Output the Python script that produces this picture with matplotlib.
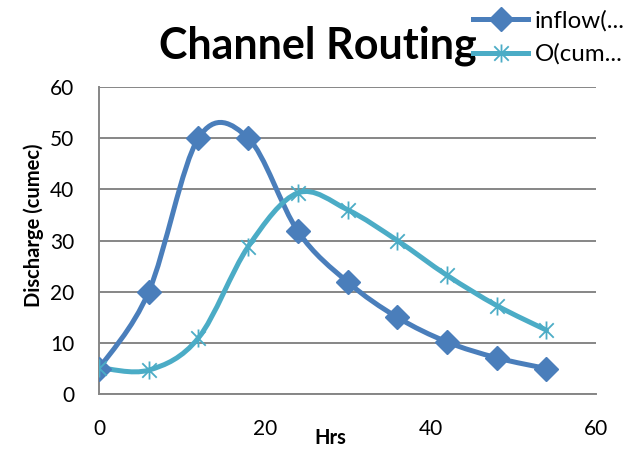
import matplotlib

matplotlib.use("Agg")
import matplotlib.pyplot as plt
import numpy as np
from matplotlib.patches import PathPatch
from matplotlib.path import Path

plt.rcParams["font.family"] = ["Lato", "DejaVu Sans"]

hours = [0, 6, 12, 18, 24, 30, 36, 42, 48, 54]
inflow = [5, 20, 50, 50, 31.8, 21.9, 15, 10.2, 7.1, 5]
outflow = [5.2, 4.7, 11, 28.8, 39.3, 36, 30, 23.2, 17.3, 12.5]
series_names = ["inflow(...", "O(cum..."]

BLUE = "#4a7ebb"
TEAL = "#4bacc6"
GRID = "#868686"

# asterisk marker: vertical bar plus an X
star = Path(
    [(0, -1), (0, 1), (-0.8, -0.8), (0.8, 0.8), (-0.8, 0.8), (0.8, -0.8)],
    [Path.MOVETO, Path.LINETO] * 3,
)


def smooth_path(x, y):
    """Cubic Bezier path through the points (Catmull-Rom style tangents)."""
    pts = np.column_stack([x, y]).astype(float)
    n = len(pts)
    verts = [pts[0]]
    codes = [Path.MOVETO]
    for i in range(n - 1):
        p0 = pts[i - 1] if i > 0 else pts[i]
        p1, p2 = pts[i], pts[i + 1]
        p3 = pts[i + 2] if i + 2 < n else pts[i + 1]
        c1 = p1 + (p2 - p0) / 6.0
        c2 = p2 - (p3 - p1) / 6.0
        verts += [c1, c2, p2]
        codes += [Path.CURVE4] * 3
    return Path(verts, codes)


fig = plt.figure(figsize=(6.39, 4.5), dpi=100)
ax = fig.add_axes([0.155, 0.124, 0.778, 0.683])

styles = [
    dict(color=BLUE, marker="D", ms=12, mew=1.0),
    dict(color=TEAL, marker=star, ms=13, mew=1.3),
]
for yv, st in zip([inflow, outflow], styles):
    ax.add_patch(PathPatch(smooth_path(hours, yv), fill=False,
                           edgecolor=st["color"], lw=3.6, capstyle="round", zorder=3))
    ax.plot(hours, yv, ls="none", marker=st["marker"], ms=st["ms"],
            color=st["color"], mec=st["color"], mew=st["mew"], zorder=4)

ax.set_xlim(0, 60)
ax.set_ylim(0, 60)
ax.set_xticks([0, 20, 40, 60])
ax.set_yticks(range(0, 61, 10))
ax.grid(axis="y", color=GRID, lw=1.4)
ax.set_axisbelow(True)
for side in ["top", "right"]:
    ax.spines[side].set_visible(False)
for side in ["left", "bottom"]:
    ax.spines[side].set_color(GRID)
    ax.spines[side].set_linewidth(1.4)
ax.tick_params(length=0, labelsize=15, colors="black")
ax.tick_params(axis="x", pad=17.5)
ax.tick_params(axis="y", pad=18)

fig.text(0.517, 0.005, "Hrs", fontsize=14.5, fontweight="bold", ha="center", va="bottom")
fig.text(0.053, 0.50, "Discharge (cumec)", fontsize=14.5, fontweight="bold",
         rotation=90, ha="center", va="center")
fig.text(0.497, 0.898, "Channel Routing", fontsize=31, fontweight="bold",
         ha="center", va="center")

# legend in the top-right corner, drawn over the title
handles = [
    plt.Line2D([], [], color=st["color"], lw=3.6, marker=st["marker"],
               ms=st["ms"], mew=st["mew"])
    for st in styles
]
fig.legend(handles, series_names, loc="upper left", bbox_to_anchor=(0.74, 0.978),
           frameon=False, fontsize=17.4, handlelength=2.3, handletextpad=0.25,
           labelspacing=0.5, borderpad=0, borderaxespad=0)

fig.savefig("out.png", dpi=100)
